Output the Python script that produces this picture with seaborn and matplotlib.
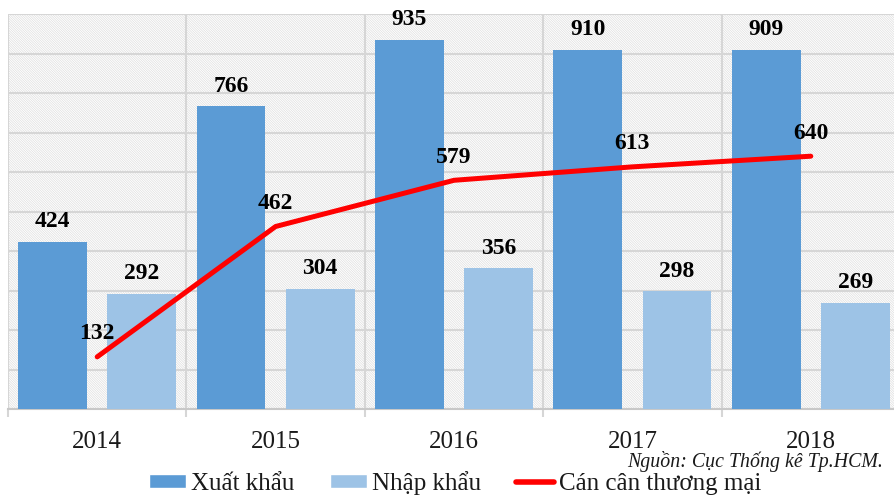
import numpy as np
import pandas as pd
import matplotlib
matplotlib.use("Agg")
import matplotlib.pyplot as plt
from matplotlib.patches import Rectangle
from matplotlib.lines import Line2D
from matplotlib.patches import Patch
import seaborn as sns

years = ["2014", "2015", "2016", "2017", "2018"]
xuat_khau = [424, 766, 935, 910, 909]
nhap_khau = [292, 304, 356, 298, 269]
can_can = [132, 462, 579, 613, 640]

series_names = ["Xuất khẩu", "Nhập khẩu"]
line_name = "Cán cân thương mại"
source_note = "Nguồn: Cục Thống kê Tp.HCM."

sns.set_theme(style="white")
plt.rcParams["font.family"] = ["Liberation Serif", "DejaVu Serif"]
plt.rcParams["hatch.linewidth"] = 0.5
plt.rcParams["hatch.color"] = "#dedede"

colors = ["#5B9BD5", "#9DC3E6"]
red = "#FF0000"
grid_c = "#d6d6d6"

df = pd.DataFrame({
    "year": years * 2,
    "value": xuat_khau + nhap_khau,
    "series": [series_names[0]] * len(years) + [series_names[1]] * len(years),
})

fig = plt.figure(figsize=(8.95, 4.97), dpi=100)
ax = fig.add_axes([8 / 895, 88 / 497, 892 / 895, 395 / 497])

# hatched plot background
ax.add_patch(Rectangle((0, 0), 1, 1, transform=ax.transAxes, facecolor="white",
                       edgecolor="#dedede", hatch="\\" * 14, linewidth=0,
                       zorder=-1))

sns.barplot(data=df, x="year", y="value", hue="series", palette=colors,
            width=1.0, gap=0.23, ax=ax, legend=False, zorder=3, saturation=1,
            errorbar=None, linewidth=0, edgecolor="none")

xs = np.arange(len(years))
sns.lineplot(x=xs, y=can_can, ax=ax, color=red, linewidth=3.6, zorder=5,
             legend=False)

ax.set_xlim(-0.5, len(years) - 0.5)
ax.set_ylim(0, 1000)
ax.set_yticks(np.arange(0, 1001, 100))
ax.set_yticklabels([])
ax.tick_params(axis="y", length=0)
ax.set_xlabel("")
ax.set_ylabel("")

ax.set_xticks(np.arange(-0.5, len(years), 1.0), minor=True)
ax.set_axisbelow(True)
ax.grid(True, axis="y", color=grid_c, linewidth=1.5, zorder=1)
ax.grid(True, axis="x", which="minor", color=grid_c, linewidth=1.5, zorder=1)
ax.grid(False, axis="x", which="major")
ax.tick_params(axis="x", which="major", length=0, pad=16, labelsize=18,
               labelcolor="#1a1a1a")
ax.tick_params(axis="x", which="minor", length=6, width=1.5, color=grid_c,
               bottom=True)
for s in ["top", "left", "right"]:
    ax.spines[s].set_visible(False)
ax.spines["bottom"].set_color("#c8c8c8")
ax.spines["bottom"].set_linewidth(1.5)

# value labels
label_kw = dict(textcoords="offset points", ha="center", va="bottom",
                fontsize=17, fontweight="bold", color="black", zorder=6)
for i, v in enumerate(xuat_khau):
    ax.annotate(str(v), (i - 0.25, v), xytext=(0, 7), **label_kw)
for i, v in enumerate(nhap_khau):
    ax.annotate(str(v), (i + 0.25, v), xytext=(0, 7), **label_kw)
for i, v in enumerate(can_can):
    ax.annotate(str(v), (i, v), xytext=(0, 9), **label_kw)

fig.text(883 / 895, 1 - 462 / 497, source_note, ha="right", va="center",
         fontsize=14.3, style="italic", color="#1a1a1a")

handles = [Patch(facecolor=colors[0]), Patch(facecolor=colors[1]),
           Line2D([0], [0], color=red, linewidth=4)]
fig.legend(handles, series_names + [line_name], loc="center", ncol=3,
           bbox_to_anchor=(455 / 895, 1 - 483 / 497), frameon=False,
           fontsize=18, handlelength=1.5, handleheight=0.5, handletextpad=0.2,
           columnspacing=1.4, borderpad=0, labelcolor="#1a1a1a")

fig.savefig("out.png", dpi=100)
